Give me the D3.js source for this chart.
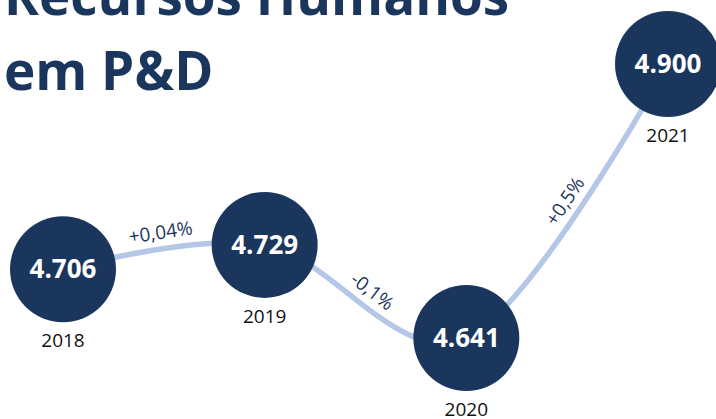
<!DOCTYPE html>
<html>
<head>
<meta charset="utf-8">
<script src="https://cdn.jsdelivr.net/npm/d3@7"></script>
<style>
  body { margin: 0; background: #fff; }
  svg { display: block; font-family: "Open Sans", sans-serif; }
</style>
</head>
<body>
<div id="chart"></div>
<script>
// data
const years = ["2018", "2019", "2020", "2021"];
const values = [4706, 4729, 4641, 4900];
const valueLabels = ["4.706", "4.729", "4.641", "4.900"];
const changeLabels = ["+0,04%", "-0,1%", "+0,5%"];
const titleLines = ["Recursos Humanos", "em P&D"];

const width = 716, height = 419;
const navy = "#1b365d";
const radius = 53;

const svg = d3.select("#chart")
  .append("svg")
    .attr("width", width)
    .attr("height", height);

// title, top line is partly cut off
svg.selectAll(".title")
  .data(titleLines)
  .enter()
  .append("text")
    .attr("class", "title")
    .attr("x", 4)
    .attr("y", (d, i) => 15 + i * 75)
    .style("font-size", "53px")
    .style("font-weight", 700)
    .style("fill", navy)
    .text(d => d);

// scales
const x = d3.scalePoint()
  .domain(years)
  .range([63, 668]);

const y = d3.scaleLinear()
  .domain([4641, 4900])
  .range([338, 64]);

const pts = years.map((yr, i) => [x(yr), y(values[i])]);

// connecting line
const line = d3.line().curve(d3.curveCardinal);

svg.append("path")
  .attr("d", line(pts))
  .attr("fill", "none")
  .attr("stroke", "#b4c7e7")
  .attr("stroke-width", 5.5)
  .attr("stroke-linecap", "round");

// record each bezier segment so the % labels can sit on the middle of it
const segs = [];
let last = null;
const recorder = {
  moveTo(a, b) { last = [a, b]; },
  lineTo(a, b) { segs.push(`M${last}L${a},${b}`); last = [a, b]; },
  bezierCurveTo(a, b, c, d, e, f) { segs.push(`M${last}C${a},${b},${c},${d},${e},${f}`); last = [e, f]; },
  closePath() {}
};
d3.line().curve(d3.curveCardinal).context(recorder)(pts);

const helper = svg.append("path").attr("fill", "none").attr("stroke", "none");

changeLabels.forEach(function(lbl, i) {
  helper.attr("d", segs[i]);
  const node = helper.node();
  const len = node.getTotalLength();
  const p = node.getPointAtLength(len / 2);
  const p1 = node.getPointAtLength(len / 2 - 2);
  const p2 = node.getPointAtLength(len / 2 + 2);
  let tx = p2.x - p1.x, ty = p2.y - p1.y;
  const n = Math.hypot(tx, ty);
  tx /= n; ty /= n;
  const off = 17;
  const cx = p.x + ty * off, cy = p.y - tx * off;
  const ang = Math.atan2(ty, tx) * 180 / Math.PI;

  svg.append("text")
    .attr("transform", `translate(${cx},${cy}) rotate(${ang})`)
    .attr("text-anchor", "middle")
    .attr("dominant-baseline", "central")
    .style("font-size", "19px")
    .style("fill", navy)
    .text(lbl);
});
helper.remove();

// bubbles
const node = svg.selectAll(".node")
  .data(years)
  .enter()
  .append("g")
    .attr("class", "node")
    .attr("transform", (d, i) => `translate(${x(d)},${y(values[i])})`);

node.append("circle")
  .attr("r", radius)
  .attr("fill", navy);

node.append("text")
  .attr("text-anchor", "middle")
  .attr("dy", "0.35em")
  .style("font-size", "26px")
  .style("font-weight", 700)
  .style("fill", "#fff")
  .text((d, i) => valueLabels[i]);

node.append("text")
  .attr("text-anchor", "middle")
  .attr("y", radius + 25)
  .style("font-size", "19px")
  .style("fill", "#111")
  .text(d => d);
</script>
</body>
</html>
